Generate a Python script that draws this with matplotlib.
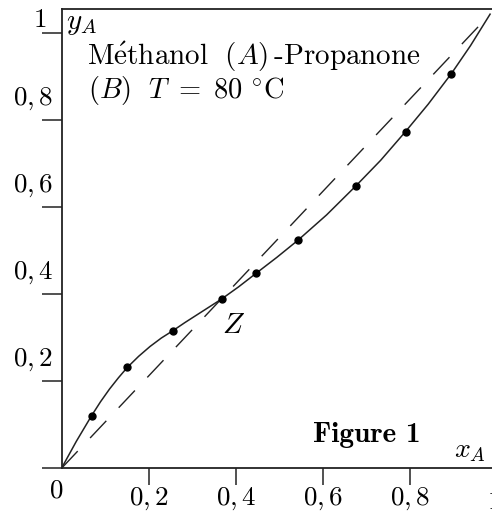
import numpy as np
import matplotlib.pyplot as plt
from matplotlib.transforms import ScaledTranslation

plt.rcParams['mathtext.fontset'] = 'cm'
plt.rcParams['font.family'] = ['DejaVu Serif']

# measured points (x_A, y_A)
x_pts = [0.069, 0.151, 0.255, 0.367, 0.446, 0.542, 0.675, 0.789, 0.894]
y_pts = [0.121, 0.232, 0.316, 0.389, 0.448, 0.524, 0.649, 0.774, 0.907]

# curve
x_curve = [0.0, 0.034, 0.069, 0.0895, 0.110, 0.1305, 0.151, 0.177, 0.203, 0.229,
           0.255, 0.283, 0.311, 0.339, 0.367, 0.406, 0.446, 0.494, 0.542, 0.608,
           0.675, 0.732, 0.789, 0.841, 0.894, 0.938, 0.983]
y_curve = [0.0, 0.062, 0.121, 0.153, 0.182, 0.208, 0.232, 0.2575, 0.280, 0.2995,
           0.316, 0.335, 0.353, 0.371, 0.389, 0.417, 0.448, 0.485, 0.524, 0.5825,
           0.649, 0.708, 0.774, 0.837, 0.907, 0.9715, 1.044]

# dashed reference line as drawn
x_diag = [0.0, 0.983]
y_diag = [0.0, 1.044]

x_ticks = [0.2, 0.4, 0.6, 0.8]
x_labels = [r'$0,2$', r'$0,4$', r'$0,6$', r'$0,8$']
y_ticks = [0.0, 0.2, 0.4, 0.6, 0.8, 1.0]
y_labels = ['', r'$0,2$', r'$0,4$', r'$0,6$', r'$0,8$', r'$1$']

fig = plt.figure(figsize=(4.92, 5.13), dpi=100)
ax = fig.add_axes([61.5 / 492, (513 - 468.3) / 513, 436 / 492, 459.3 / 513])
ax.set_xlim(0, 1)
ax.set_ylim(0, 459.3 / 435)

col = '#222222'
ax.plot(x_diag, y_diag, color=col, lw=1.0, dashes=(17, 13))
ax.plot(x_curve, y_curve, color=col, lw=1.1)
ax.plot(x_pts, y_pts, 'o', color='black', ms=5)

ax.spines['right'].set_visible(False)
for s in ['left', 'bottom', 'top']:
    ax.spines[s].set_color(col)
    ax.spines[s].set_linewidth(1.3)

ax.set_xticks(x_ticks, x_labels)
ax.set_yticks(y_ticks, y_labels)
ax.tick_params(axis='x', direction='out', length=12.2, width=1.1, color=col,
               pad=0, labelsize=19.5)
ax.tick_params(axis='y', direction='out', length=14.4, width=1.1, color=col,
               pad=-8.3, labelsize=19.5)
off = ScaledTranslation(0, 6 / 72, fig.dpi_scale_trans)
off_top = ScaledTranslation(-5 / 72, -6 / 72, fig.dpi_scale_trans)
ylbls = ax.get_yticklabels()
for lbl in ylbls:
    lbl.set_va('bottom')
    lbl.set_transform(lbl.get_transform() + off)
ylbls[-1].set_transform(ylbls[-1].get_transform() + off_top)

ax.text(-0.0115, -0.017, r'$0$', transform=ax.transAxes, ha='center', va='top',
        fontsize=19.5)
ax.text(0.992, -0.042, r'$1$', transform=ax.transAxes, ha='center', va='top',
        fontsize=19.5, clip_on=False)

ax.text(0.010, 0.956, r'$y_A$', transform=ax.transAxes, fontsize=21, va='baseline')
ax.text(0.058, 0.878, r'$\mathrm{M\acute{e}thanol}\ \ (A)\,\text{-Propanone}$',
        transform=ax.transAxes, fontsize=21, va='baseline')
ax.text(0.060, 0.806, r'$(B)\ \ T\ =\ 80\ ^{\circ}\mathrm{C}$',
        transform=ax.transAxes, fontsize=20.5, va='baseline')
ax.text(0.368, 0.295, r'$Z$', transform=ax.transAxes, fontsize=21, va='baseline')
ax.text(0.577, 0.057, 'Figure 1', transform=ax.transAxes,
        fontsize=21, va='baseline', family='cmb10')
ax.text(0.900, 0.0246, r'$x_A$', transform=ax.transAxes, fontsize=20, va='baseline')

fig.savefig('out.png', dpi=100)
